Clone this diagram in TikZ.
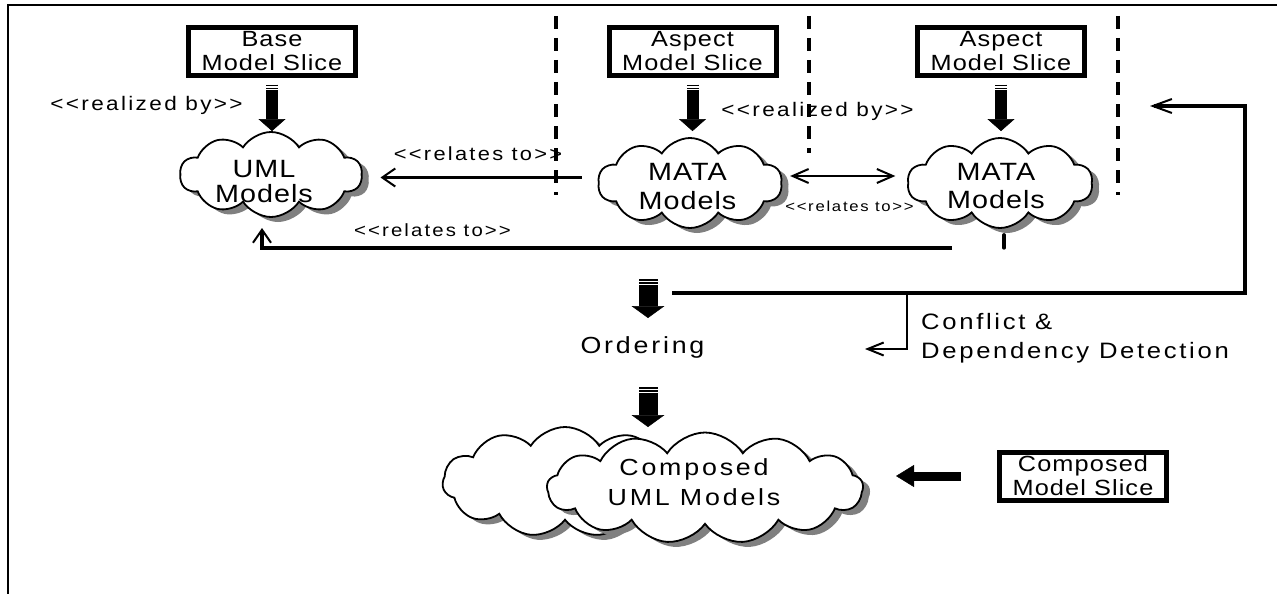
\documentclass[tikz,border=0pt]{standalone}
\usepackage{fontspec}
\setmainfont{Liberation Sans}
\newfontfamily\slicefont[FakeStretch=1.15,LetterSpace=5]{Liberation Sans}
\newfontfamily\cloudfont[FakeStretch=1.15,LetterSpace=4]{Liberation Sans}
\newfontfamily\tagfont[FakeStretch=1.15,LetterSpace=12]{Liberation Sans}
\usetikzlibrary{shapes.symbols,shadows,arrows.meta}
\begin{document}
\begin{tikzpicture}[x=1pt,y=-1pt,
  slice/.style={draw, line width=5pt, minimum width=167pt, minimum height=48pt,
    inner sep=0pt, align=center, font=\slicefont\fontsize{22}{24}\selectfont},
  puff/.style={cloud, cloud puffs=#1, cloud puff arc=115, cloud ignores aspect,
    draw, line width=1.8pt, fill=white, inner sep=0pt,
    drop shadow={shadow xshift=7pt, shadow yshift=-5pt, fill=black!50, opacity=1}},
  puff/.default=11,
  cloudtext/.style={align=center, inner sep=0pt},
  tag/.style={inner sep=0pt, anchor=base},
  boundary/.style={line width=3.5pt, dash pattern=on 13pt off 9pt},
  blocknarrow/.style={line width=12pt, -{Triangle[length=12pt,width=27pt,line width=0.5pt]}},
  blockwide/.style={line width=19pt, -{Triangle[length=12pt,width=33pt,line width=0.5pt]}},
  blockside/.style={line width=9pt, -{Triangle[length=18pt,width=22pt,line width=0.5pt]}},
  stripe/.style={white, line width=1.2pt},
  rel/.style={line width=3.5pt, -{Straight Barb[length=13pt,width=18pt,line width=2pt]}},
  feedback/.style={line width=3.5pt, -{Straight Barb[length=19pt,width=14pt,line width=2pt]}},
  relthin/.style={line width=2.5pt, -{Straight Barb[length=16pt,width=13pt,line width=2pt]}},
  mutual/.style={line width=2pt, {Straight Barb[length=16pt,width=14pt,line width=2pt]}-{Straight Barb[length=16pt,width=14pt,line width=2pt]}},
]
\useasboundingbox (0,0) rectangle (1277,594);
\fill[white] (0,0) rectangle (1277,594);
% page frame
\draw[line width=2pt] (7.5,594) -- (7.5,5.5) -- (1277,5.5);

% model slices
\node[slice] (base) at (272,51.5) {Base\\Model Slice};
\node[slice] (asp1) at (692.5,51.5) {Aspect\\Model Slice};
\node[slice] (asp2) at (1001,51.5) {Aspect\\Model Slice};
\node[slice] (cslice) at (1083,476) {Composed\\Model Slice};

% model clouds
\node[puff=10, minimum width=182pt, minimum height=85pt] (uml) at (271,174.5) {};
\node[puff=10, minimum width=184pt, minimum height=90pt] (mata1) at (690,183) {};
\node[puff=10, minimum width=185pt, minimum height=90pt] (mata2) at (1000,183) {};
\node[puff=11, minimum width=245pt, minimum height=110pt] (compback) at (565,482) {};
\node[puff=13, minimum width=316pt, minimum height=111pt] (comp) at (705,488) {};

\node[cloudtext, font=\cloudfont\fontsize{25}{25}\selectfont] (umltext) at (264,181.7) {UML\\Models};
\node[cloudtext, font=\cloudfont\fontsize{25}{29}\selectfont] (mata1text) at (687.5,187) {MATA\\Models};
\node[cloudtext, font=\cloudfont\fontsize{25}{28}\selectfont] (mata2text) at (996,186) {MATA\\Models};
\node[cloudtext, font=\tagfont\fontsize{23.3}{30}\selectfont] (comptext) at (694,481.7) {Composed\\UML Models};

% concern boundaries
\coordinate (d1t) at (556,16); \coordinate (d1b) at (556,195);
\coordinate (d2t) at (809,16); \coordinate (d2b) at (809,153);
\coordinate (d3t) at (1118,16); \coordinate (d3b) at (1118,195);
\draw[boundary] (d1t) -- (d1b);
\draw[boundary] (d2t) -- (d2b);
\draw[boundary] (d3t) -- (d3b);

% realization arrows
\draw[blocknarrow, shorten <=6.5pt] (base.south) -- (base.south |- uml.north);
\draw[blocknarrow, shorten <=6.5pt, shorten >=6pt] (asp1.south) -- (asp1.south |- mata1.north);
\draw[blocknarrow, shorten <=6.5pt, shorten >=6pt] (asp2.south) -- (asp2.south |- mata2.north);
\foreach \s in {base,asp1,asp2}{
  \draw[stripe] ([xshift=-7pt,yshift=-9pt]\s.south) -- ++(14,0);
  \draw[stripe] ([xshift=-7pt,yshift=-11.5pt]\s.south) -- ++(14,0);
}

\node[tag, font=\tagfont\fontsize{19.6}{22}\selectfont] (realA) at (146.5,110.7) {<<realized by>>};
\node[tag, font=\tagfont\fontsize{19.6}{22}\selectfont] (realB) at (817.5,116.7) {<<realized by>>};

% relations between models
\coordinate (rowA) at (0,177.5);
\coordinate (rowB) at (0,176);
\draw[rel] ([xshift=-16pt]mata1.west |- rowA) -- ([xshift=18pt]uml.east |- rowA);
\node[tag, font=\tagfont\fontsize{19}{22}\selectfont] (relA) at (478,160) {<<relates to>>};
\draw[mutual] ([xshift=8pt]mata1.east |- rowB) -- ([xshift=-12pt]mata2.west |- rowB);
\node[tag, font=\tagfont\fontsize{14.5}{16}\selectfont] (relC) at (849.5,211.7) {<<relates to>>};

\coordinate (lowstart) at (952,248);
\coordinate (lowtip) at (262,228);
\draw[rel] (lowstart) -| (lowtip);
\draw[line width=3.5pt, line cap=round] ([xshift=4pt,yshift=-6pt]mata2.south) -- ++(0,13);
\node[tag, font=\tagfont\fontsize{17.7}{20}\selectfont] (relB) at (432.5,236.7) {<<relates to>>};

% ordering and detection
\coordinate (ordtop) at (648,279);
\coordinate (ordtip) at (648,318);
\draw[blockwide] (ordtop) -- (ordtip);
\draw[stripe] ([xshift=-10pt,yshift=-2.8pt]ordtop) -- ++(20,0);
\draw[stripe] ([xshift=-10pt,yshift=-5.3pt]ordtop) -- ++(20,0);
\node[tag, font=\tagfont\fontsize{23.3}{26}\selectfont] (ordering) at (642.5,353.3) {Ordering};

\coordinate (mergetop) at (648,387);
\coordinate (mergetip) at (648,427);
\draw[blockwide] (mergetop) -- (mergetip);
\draw[stripe] ([xshift=-10pt,yshift=-2.8pt]mergetop) -- ++(20,0);
\draw[stripe] ([xshift=-10pt,yshift=-5.3pt]mergetop) -- ++(20,0);

\coordinate (fbstart) at (672,293);
\coordinate (fbcorner) at (1245,106);
\coordinate (fbtip) at (1150,106);
\draw[feedback] (fbstart) -| (fbcorner) -- (fbtip);

\coordinate (brtop) at (907,293);
\coordinate (brtip) at (865,349);
\draw[relthin] (brtop) |- (brtip);
\node[inner sep=0pt, anchor=north west, align=left, font=\tagfont\fontsize{22.3}{29}\selectfont] (detect) at (921,313) {Conflict \&\\Dependency Detection};

% composition input
\draw[blockside, shorten <=36.5pt, shorten >=32pt] (cslice.west) -- (comp.east |- cslice.west);
\draw[white, line width=1.7pt] ([xshift=-48.7pt,yshift=6pt]cslice.west) -- ++(0,-12);
\draw[white, line width=1.6pt] ([xshift=-42pt,yshift=6pt]cslice.west) -- ++(0,-12);
\end{tikzpicture}
\end{document}
